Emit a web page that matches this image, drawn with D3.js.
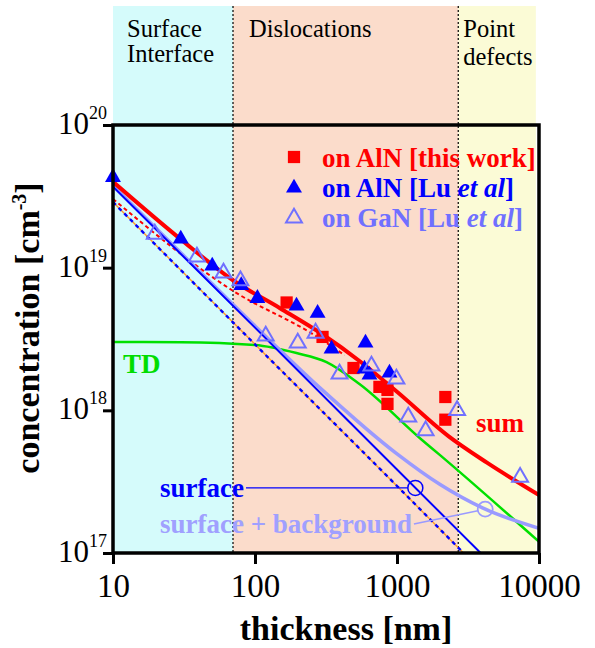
<!DOCTYPE html>
<html><head><meta charset="utf-8">
<script src="https://cdn.jsdelivr.net/npm/d3@7"></script>
<style>
body{margin:0;background:#fff;}
text{font-family:"Liberation Serif","Times New Roman",serif;}
</style>
</head><body>
<svg id="c" width="595" height="648"></svg>
<script>
// ---------- data ----------
const thicknessTicks = [10, 100, 1000, 10000];
const concTicks = [1e17, 1e18, 1e19, 1e20];

const regionNames = [["Surface", "Interface"], ["Dislocations"], ["Point", "defects"]];
const regionBounds = [[10, 70], [70, 2700], [2700, 9500]];
const regionColors = ["#d5fbfb", "#fbdccb", "#fbfbd6"];

// measured data [thickness nm, concentration cm^-3]
const thisWorkAlN = [[167,5.7e18],[299,3.27e18],[494,1.98e18],[752,1.46e18],[857,1.39e18],[857,1.11e18],[2190,1.24e18],[2190,8.6e17]];
const luAlN = [[10,4.3e19],[30,1.59e19],[50,1.03e19],[80,7.5e18],[104,6.1e18],[196,5.4e18],[276,4.8e18],[346,2.69e18],[600,2.97e18],[590,1.95e18],[640,1.77e18],[885,1.83e18]];
const luGaN = [[19.7,1.72e19],[39,1.19e19],[60,9.2e18],[79,8.1e18],[119,3.32e18],[200,2.97e18],[267,3.48e18],[394,1.8e18],[661,2.05e18],[990,1.66e18],[1200,9.0e17],[1590,7.2e17],[2650,1.0e18],[7360,3.4e17]];

// model curves
const sumCurve = [[10,4.0e19],[30,1.58e19],[72,8.0e18],[150,5.2e18],[300,3.4e18],[550,2.2e18],[1000,1.35e18],[2300,6.6e17],[4300,4.3e17],[10000,2.55e17]];
const tdCurve = [[10,3.01e18],[30,3.0e18],[100,2.87e18],[196,2.52e18],[319,2.18e18],[544,1.53e18],[1500,6.2e17],[2000,4.87e17],[10000,1.2e17]];
const surfaceCurve = [[10,3.7e19],[100,3.8e18],[1000,3.85e17],[4000,9.7e16]];
const surfaceBgCurve = [[10,3.75e19],[30,1.27e19],[100,3.9e18],[300,1.38e18],[1000,4.95e17],[2000,3.03e17],[4000,2.07e17],[10000,1.49e17]];
const dashRedCurve = [[10,3.03e19],[72,6.76e18],[254,3.43e18],[427,2.44e18]];
const dashBlueCurve = [[10,2.88e19],[100,2.9e18],[1000,2.95e17],[3000,9.8e16]];

const surfaceMarker = [1346, 2.86e17];
const surfaceBgMarker = [4180, 2.03e17];

// ---------- drawing ----------
const svg = d3.select("#c");
const x = d3.scaleLog().domain([10, 10000]).range([113, 539]);
const y = d3.scaleLog().domain([1e17, 1e20]).range([553, 125]);
const bandTop = 6;
const labelSize = 27;

// background bands
const regionDx = [14, 16, 5];
regionBounds.forEach((b, i) => {
  svg.append("rect").attr("x", x(b[0])).attr("y", bandTop)
    .attr("width", x(b[1]) - x(b[0])).attr("height", y(1e17) - bandTop)
    .attr("fill", regionColors[i]);
});
regionNames.forEach((lines, i) => {
  lines.forEach((s, j) => {
    svg.append("text").attr("x", x(regionBounds[i][0]) + regionDx[i])
      .attr("y", 37 + j * (i === 2 ? 28 : 25))
      .attr("font-size", 24.5).attr("fill", "#000").text(s);
  });
});
// dotted separators
[70, 2700].forEach(v => {
  svg.append("line").attr("x1", x(v)).attr("x2", x(v)).attr("y1", bandTop).attr("y2", y(1e17))
    .attr("stroke", "#000").attr("stroke-width", 1.2).attr("stroke-dasharray", "2,2");
});

// clip
svg.append("clipPath").attr("id", "plotclip").append("rect")
  .attr("x", x(10)).attr("y", y(1e20)).attr("width", x(10000) - x(10)).attr("height", y(1e17) - y(1e20));
const g = svg.append("g").attr("clip-path", "url(#plotclip)");

const line = d3.line().x(d => x(d[0])).y(d => y(d[1])).curve(d3.curveMonotoneX);

g.append("path").attr("d", line(tdCurve)).attr("fill", "none").attr("stroke", "#00e000").attr("stroke-width", 2.5);
g.append("path").attr("d", line(dashBlueCurve)).attr("fill", "none").attr("stroke", "#ff9a2a").attr("stroke-width", 1.4);
g.append("path").attr("d", line(dashBlueCurve)).attr("fill", "none").attr("stroke", "#0000ff").attr("stroke-width", 2.4).attr("stroke-dasharray", "4,4");
g.append("path").attr("d", line(dashRedCurve)).attr("fill", "none").attr("stroke", "#ff0000").attr("stroke-width", 2).attr("stroke-dasharray", "4,3");
g.append("path").attr("d", line(surfaceBgCurve)).attr("fill", "none").attr("stroke", "#9a9aff").attr("stroke-width", 3.5);
g.append("path").attr("d", line(surfaceCurve)).attr("fill", "none").attr("stroke", "#0000ff").attr("stroke-width", 2);
g.append("path").attr("d", line(sumCurve)).attr("fill", "none").attr("stroke", "#ff0000").attr("stroke-width", 4);

// markers
const sq = d3.symbol(d3.symbolSquare, 150);
const tri = d3.symbol(d3.symbolTriangle, 110);
svg.append("g").selectAll("path").data(thisWorkAlN).join("path")
  .attr("d", sq).attr("transform", d => `translate(${x(d[0])},${y(d[1])})`).attr("fill", "#ff0000");
svg.append("g").selectAll("path").data(luAlN).join("path")
  .attr("d", tri).attr("transform", d => `translate(${x(d[0])},${y(d[1])})`).attr("fill", "#0000ff");
svg.append("g").selectAll("path").data(luGaN).join("path")
  .attr("d", tri).attr("transform", d => `translate(${x(d[0])},${y(d[1])})`)
  .attr("fill", "none").attr("stroke", "#7070ff").attr("stroke-width", 2);

// frame
svg.append("rect").attr("x", x(10)).attr("y", y(1e20)).attr("width", x(10000) - x(10)).attr("height", y(1e17) - y(1e20))
  .attr("fill", "none").attr("stroke", "#000").attr("stroke-width", 3.5);

// axes
const xa = svg.append("g").attr("transform", `translate(0,${y(1e17)})`)
  .call(d3.axisBottom(x).tickValues(thicknessTicks).tickFormat(d3.format("d")).tickSize(11).tickSizeOuter(0));
xa.select(".domain").remove();
xa.selectAll(".tick line").attr("stroke", "#000").attr("stroke-width", 3);
xa.selectAll(".tick text").attr("y", 21).attr("font-size", 33).attr("fill", "#000")
  .attr("font-family", "Liberation Serif, serif");

const ya = svg.append("g").attr("transform", `translate(${x(10)},0)`)
  .call(d3.axisLeft(y).tickValues(concTicks).tickFormat("").tickSize(10).tickSizeOuter(0));
ya.select(".domain").remove();
ya.selectAll(".tick line").attr("stroke", "#000").attr("stroke-width", 3);
concTicks.forEach(v => {
  const t = svg.append("text").attr("x", 107).attr("y", y(v) + 9).attr("text-anchor", "end").attr("fill", "#000");
  t.append("tspan").attr("font-size", 31).text("10");
  t.append("tspan").attr("font-size", 18).attr("dy", -15).text(Math.round(Math.log10(v)));
});

// axis titles
svg.append("text").attr("x", 346).attr("y", 640).attr("text-anchor", "middle")
  .attr("font-size", 34).attr("font-weight", "bold").text("thickness [nm]");
const yt = svg.append("text").attr("transform", "translate(39,328) rotate(-90)").attr("text-anchor", "middle")
  .attr("font-size", 34).attr("font-weight", "bold");
yt.append("tspan").text("concentration [cm");
yt.append("tspan").attr("font-size", 20).attr("dy", -13).text("-3");
yt.append("tspan").attr("dy", 13).text("]");

// legend
const legendY = [157, 188, 218];
svg.append("path").attr("d", sq).attr("transform", `translate(294,${legendY[0]})`).attr("fill", "#ff0000");
svg.append("path").attr("d", tri).attr("transform", `translate(294,${legendY[1]})`).attr("fill", "#0000ff");
svg.append("path").attr("d", tri).attr("transform", `translate(294,${legendY[2]})`).attr("fill", "none").attr("stroke", "#7070ff").attr("stroke-width", 2);
svg.append("text").attr("x", 322).attr("y", legendY[0] + 10).attr("font-size", labelSize).attr("font-weight", "bold").attr("fill", "#ff0000").text("on AlN [this work]");
const l2 = svg.append("text").attr("x", 322).attr("y", legendY[1] + 9).attr("font-size", labelSize).attr("font-weight", "bold").attr("fill", "#0000ff");
l2.append("tspan").text("on AlN [Lu ");
l2.append("tspan").attr("font-style", "italic").text("et al");
l2.append("tspan").text("]");
const l3 = svg.append("text").attr("x", 322).attr("y", legendY[2] + 9).attr("font-size", labelSize).attr("font-weight", "bold").attr("fill", "#7070ff");
l3.append("tspan").text("on GaN [Lu ");
l3.append("tspan").attr("font-style", "italic").text("et al");
l3.append("tspan").text("]");

// curve labels
svg.append("text").attr("x", 123).attr("y", 373).attr("font-size", labelSize).attr("font-weight", "bold").attr("fill", "#00dd00").text("TD");
svg.append("text").attr("x", 476).attr("y", 432).attr("font-size", labelSize).attr("font-weight", "bold").attr("fill", "#ff0000").text("sum");
const sLab = svg.append("text").attr("x", 160).attr("y", 497).attr("font-size", labelSize).attr("font-weight", "bold").attr("fill", "#0000ff").text("surface");
const bLab = svg.append("text").attr("x", 160).attr("y", 533).attr("font-size", labelSize).attr("font-weight", "bold").attr("fill", "#a0a0ff").text("surface + background");

const r = 7.5;
const sx = x(surfaceMarker[0]), sy = y(surfaceMarker[1]);
const sEnd = 160 + sLab.node().getComputedTextLength() + 2;
svg.append("line").attr("x1", sEnd).attr("y1", sy).attr("x2", sx - r).attr("y2", sy).attr("stroke", "#0000ff").attr("stroke-width", 1.3);
svg.append("circle").attr("cx", sx).attr("cy", sy).attr("r", r).attr("fill", "none").attr("stroke", "#0000ff").attr("stroke-width", 1.5);

const bx = x(surfaceBgMarker[0]), by = y(surfaceBgMarker[1]);
const bEnd = 160 + bLab.node().getComputedTextLength() + 2;
const bStartY = 524;
const ang = Math.atan2(by - bStartY, bx - bEnd);
svg.append("line").attr("x1", bEnd).attr("y1", bStartY).attr("x2", bx - r * Math.cos(ang)).attr("y2", by - r * Math.sin(ang)).attr("stroke", "#9a9aff").attr("stroke-width", 1.5);
svg.append("circle").attr("cx", bx).attr("cy", by).attr("r", r).attr("fill", "none").attr("stroke", "#9a9aff").attr("stroke-width", 1.8);
</script>
</body></html>
